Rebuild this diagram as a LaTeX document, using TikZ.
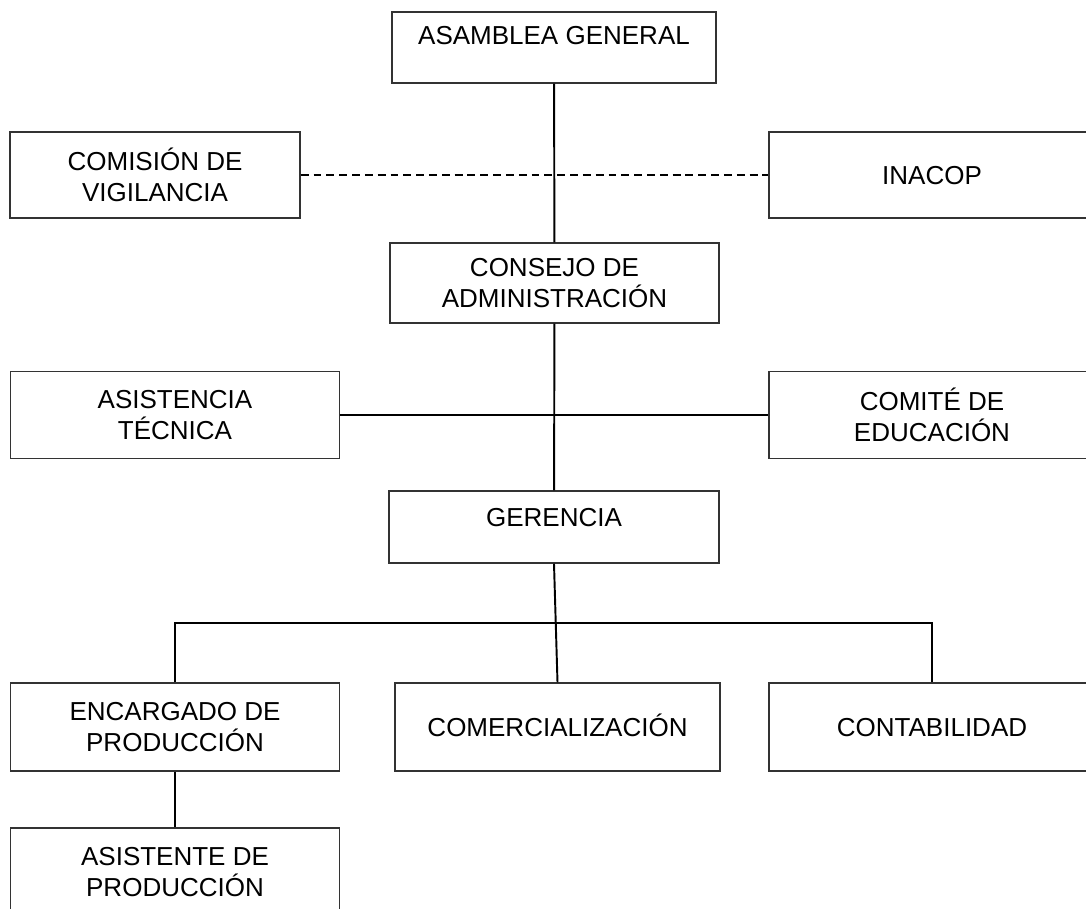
\documentclass[tikz,border=0pt]{standalone}
\usepackage{fontspec}
\setmainfont{Liberation Sans}
\usetikzlibrary{positioning}

\begin{document}
\begin{tikzpicture}[x=0.02cm,y=-0.02cm,
    box/.style={rectangle,draw=black!80,line width=0.85pt,align=center,inner sep=0pt,
      font=\fontsize{14.8}{17.8}\selectfont},
    single/.style={box,text height=10.6pt},
    link/.style={-,draw=black,line width=1.1pt},
    dashlink/.style={-,draw=black,line width=1pt,dash pattern=on 4.5pt off 2.8pt}]
  \useasboundingbox (0,0) rectangle (1086,909);
  \clip (0,0) rectangle (1086,909);
  \begin{scope}
    \node[single,minimum width=6.48cm,minimum height=1.42cm,text depth=0.5cm] (asamblea) at (554,47.5) {ASAMBLEA GENERAL};
    \node[box,minimum width=5.8cm,minimum height=1.72cm] (comision) at (155,175) {COMISIÓN DE\\VIGILANCIA};
    \node[single,minimum width=6.52cm,minimum height=1.72cm] (inacop) at (932,175) {INACOP};
    \node[box,minimum width=6.58cm,minimum height=1.6cm] (consejo) at (554.5,283) {CONSEJO DE\\ADMINISTRACIÓN};
    \node[box,minimum width=6.58cm,minimum height=1.74cm] (asistencia) at (175,415) {ASISTENCIA\\TÉCNICA};
    \node[box,minimum width=6.52cm,minimum height=1.74cm] (comite) at (932,415) {COMITÉ DE\\EDUCACIÓN};
    \node[single,minimum width=6.6cm,minimum height=1.44cm,text depth=0.4cm] (gerencia) at (554,527) {GERENCIA};
    \node[box,minimum width=6.58cm,minimum height=1.76cm] (encargado) at (175,727) {ENCARGADO DE\\PRODUCCIÓN};
    \node[single,minimum width=6.5cm,minimum height=1.76cm] (comercial) at (557.5,727) {COMERCIALIZACIÓN};
    \node[single,minimum width=6.52cm,minimum height=1.76cm] (contab) at (932,727) {CONTABILIDAD};
    \node[box,minimum width=6.58cm,minimum height=1.76cm] (asistente) at (175,872) {ASISTENTE DE\\PRODUCCIÓN};
    \coordinate (bar) at (557,623);
    \path[dashlink] (comision) edge (inacop);
    \path[link] (asistencia) edge (comite);
    \path[link] (asamblea) edge (consejo);
    \path[link] (consejo) edge (gerencia);
    \path[link] (gerencia.south) edge (comercial.north);
    \draw[link] (encargado.north) |- (bar) -| (contab.north);
    \path[link] (encargado) edge (asistente);
  \end{scope}
\end{tikzpicture}
\end{document}
